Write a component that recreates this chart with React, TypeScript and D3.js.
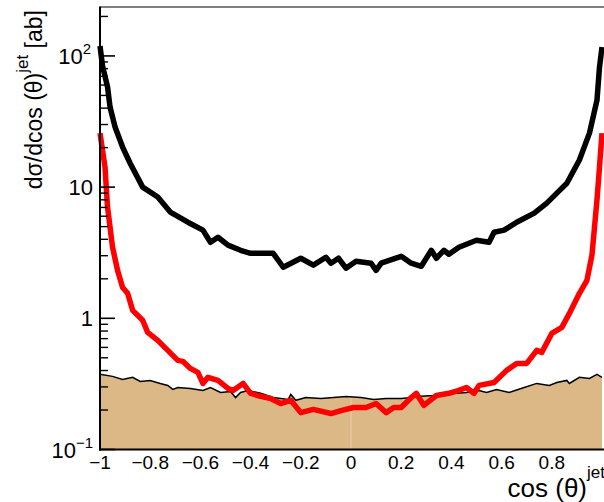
import React from "react";
import * as d3 from "d3";

// ---- data ----
const blackX = [-1.0,-0.99,-0.97,-0.96,-0.94,-0.91,-0.88,-0.83,-0.77,-0.72,-0.65,-0.59,-0.56,-0.53,-0.49,-0.44,-0.40,-0.36,-0.31,-0.27,-0.20,-0.15,-0.10,-0.08,-0.05,-0.02,0.02,0.08,0.10,0.12,0.20,0.24,0.28,0.32,0.34,0.37,0.39,0.43,0.50,0.55,0.57,0.61,0.66,0.73,0.78,0.82,0.86,0.91,0.95,0.98,0.99,1.0];
const blackY = [119,84,58,40.8,28.7,20.2,15.2,10,8.4,6.45,5.4,4.7,3.8,4.15,3.61,3.30,3.13,3.13,3.13,2.45,2.87,2.54,2.92,2.63,2.87,2.41,2.72,2.63,2.32,2.63,2.97,2.63,2.49,3.30,2.87,3.30,3.08,3.48,3.94,3.8,4.53,4.7,5.4,6.34,7.55,9.0,10.7,16.1,25.8,46,82,117];

const redX = [-1.0,-0.98,-0.97,-0.95,-0.93,-0.91,-0.89,-0.87,-0.83,-0.81,-0.77,-0.73,-0.69,-0.67,-0.64,-0.61,-0.59,-0.57,-0.53,-0.49,-0.47,-0.43,-0.40,-0.36,-0.32,-0.28,-0.24,-0.20,-0.15,-0.08,-0.04,0.01,0.06,0.10,0.14,0.17,0.20,0.24,0.26,0.29,0.34,0.39,0.43,0.46,0.49,0.51,0.57,0.62,0.66,0.70,0.74,0.76,0.80,0.84,0.87,0.91,0.94,0.96,0.98,0.99,1.0];
const redY = [25.8,14.2,7.03,3.48,2.32,1.72,1.55,1.15,0.966,0.782,0.679,0.570,0.478,0.470,0.415,0.387,0.319,0.355,0.336,0.292,0.282,0.319,0.268,0.254,0.245,0.224,0.237,0.191,0.202,0.188,0.198,0.209,0.209,0.224,0.191,0.209,0.209,0.249,0.268,0.217,0.258,0.268,0.282,0.297,0.268,0.308,0.324,0.401,0.453,0.453,0.570,0.550,0.767,0.853,1.09,1.55,1.95,3.03,7.96,14.2,25.8];

const bkgX = [-1.0,-0.95,-0.91,-0.87,-0.84,-0.80,-0.76,-0.73,-0.71,-0.69,-0.64,-0.59,-0.56,-0.52,-0.48,-0.46,-0.44,-0.41,-0.36,-0.31,-0.28,-0.25,-0.24,-0.22,-0.18,-0.12,-0.07,-0.02,0.04,0.09,0.14,0.20,0.24,0.26,0.33,0.39,0.42,0.46,0.51,0.54,0.58,0.63,0.69,0.74,0.79,0.82,0.86,0.87,0.91,0.95,0.98,1.0];
const bkgY = [0.374,0.361,0.342,0.355,0.330,0.336,0.319,0.308,0.287,0.297,0.292,0.282,0.297,0.272,0.277,0.249,0.272,0.282,0.268,0.249,0.245,0.241,0.263,0.237,0.249,0.245,0.249,0.254,0.249,0.241,0.245,0.245,0.249,0.254,0.258,0.268,0.268,0.272,0.282,0.272,0.287,0.272,0.297,0.319,0.308,0.324,0.336,0.319,0.355,0.348,0.374,0.355];

const xTicks = [-1, -0.8, -0.6, -0.4, -0.2, 0, 0.2, 0.4, 0.6, 0.8, 1];
const xTickLabels = ["\u22121", "\u22120.8", "\u22120.6", "\u22120.4", "\u22120.2", "0", "0.2", "0.4", "0.6", "0.8", "1"];
const yMajor = [0.1, 1, 10, 100];
const yMinorMult = [2, 3, 4, 5, 6, 7, 8, 9];

export default function App() {
  const W = 604, H = 502;
  const x = d3.scaleLinear().domain([-1, 1]).range([100, 602]);
  const y = d3.scaleLog().domain([0.1, 236]).range([449.5, 7]);
  const font = "'Liberation Sans', Arial, Helvetica, sans-serif";

  const line = d3.line<[number, number]>().x(d => x(d[0])).y(d => y(d[1])).curve(d3.curveLinear);
  const area = d3.area<[number, number]>().x(d => x(d[0])).y0(449.5).y1(d => y(d[1])).curve(d3.curveLinear);

  const black = blackX.map((v, i) => [v, blackY[i]] as [number, number]);
  const red = redX.map((v, i) => [v, redY[i]] as [number, number]);
  const bkg = bkgX.map((v, i) => [v, bkgY[i]] as [number, number]);

  const minors: number[] = [];
  [0.1, 1, 10, 100].forEach(dec => yMinorMult.forEach(m => { const v = dec * m; if (v <= 236) minors.push(v); }));

  const yLabels: { v: number; base: string; sup?: string }[] = [
    { v: 100, base: "10", sup: "2" },
    { v: 10, base: "10" },
    { v: 1, base: "1" },
    { v: 0.1, base: "10", sup: "\u22121" },
  ];

  return (
    <svg width={W} height={H} style={{ position: "absolute", left: 0, top: 0, background: "#fff" }} fontFamily={font}>
      <rect x={0} y={0} width={W} height={H} fill="#fff" />
      {/* background fill */}
      <path d={area(bkg) || ""} fill="#dbb886" stroke="none" />
      <line x1={x(0)} x2={x(0)} y1={y(0.249)} y2={449} stroke="#e6cfa6" strokeWidth={1} />
      <path d={line(bkg) || ""} fill="none" stroke="#000" strokeWidth={1.5} />
      <path d={line(black) || ""} fill="none" stroke="#000" strokeWidth={5.5} strokeLinejoin="round" />
      <path d={line(red) || ""} fill="none" stroke="#ff0000" strokeWidth={5.5} strokeLinejoin="round" />

      {/* frame */}
      <line x1={100} x2={W} y1={7} y2={7} stroke="#000" strokeWidth={1.2} />
      <line x1={100} x2={100} y1={6.5} y2={450.5} stroke="#000" strokeWidth={2} />
      <line x1={99} x2={W} y1={449.5} y2={449.5} stroke="#000" strokeWidth={2} />

      {/* y ticks */}
      {yMajor.map(v => (
        <line key={"M" + v} x1={100} x2={115} y1={y(v)} y2={y(v)} stroke="#000" strokeWidth={1.6} />
      ))}
      {minors.map(v => (
        <line key={"m" + v} x1={100} x2={108} y1={y(v)} y2={y(v)} stroke="#000" strokeWidth={1.4} />
      ))}

      {/* y labels */}
      {yLabels.map(l => (
        <text key={"yl" + l.v} x={l.sup ? (l.sup.length > 1 ? 93 : 91) : 93} y={y(l.v) + 8} fontSize={22} textAnchor="end" fill="#000">
          {l.base}
          {l.sup ? <tspan fontSize={15} dy={-10}>{l.sup}</tspan> : null}
        </text>
      ))}

      {/* x labels */}
      {xTicks.map((v, i) => (
        <text key={"xl" + v} x={x(v) + (v === 1 ? 6 : 0)} y={469} fontSize={19} textAnchor="middle" fill="#000">
          {xTickLabels[i]}
        </text>
      ))}

      {/* axis titles */}
      <text x={605} y={497} fontSize={26} textAnchor="end" fill="#000">
        cos (θ)<tspan fontSize={17} dy={-19}>jet</tspan>
      </text>
      <text transform="translate(42,10) rotate(-90)" fontSize={23} textAnchor="end" fill="#000">
        dσ/dcos (θ)<tspan fontSize={17} dy={-14}>jet</tspan><tspan dy={14}> [ab]</tspan>
      </text>
    </svg>
  );
}
